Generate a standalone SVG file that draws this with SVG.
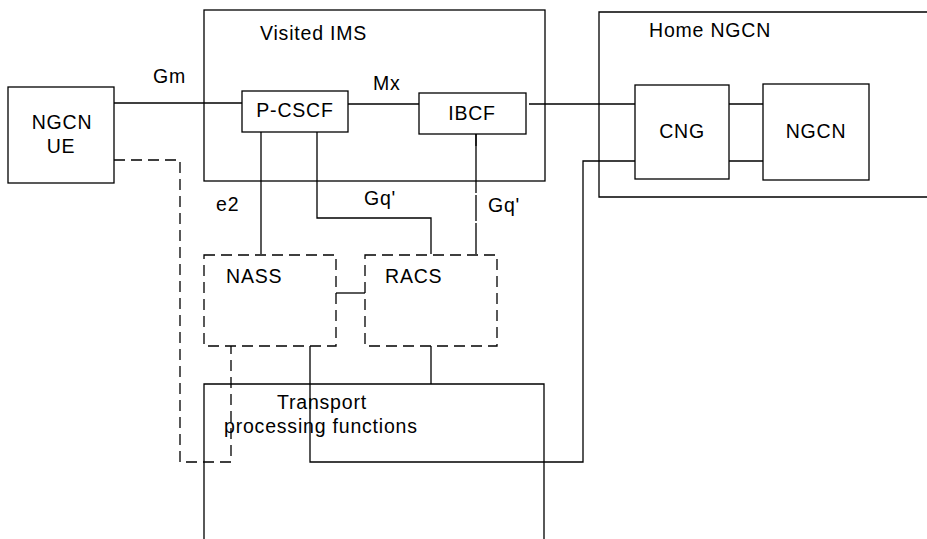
<svg xmlns="http://www.w3.org/2000/svg" width="927" height="539" viewBox="0 0 927 539">
<style>
.b{fill:none;stroke:#000;stroke-width:1.3}
.d{fill:none;stroke:#000;stroke-width:1.3;stroke-dasharray:11 6}
.c{fill:none;stroke:#000;stroke-width:1.3}
text{font-family:"Liberation Sans",Arial,sans-serif;font-size:19.5px;letter-spacing:0.8px;fill:#000}
.m{text-anchor:middle}
</style>
<rect width="927" height="539" fill="#fff"/>
<g id="visited-ims">
<rect class="b" x="204" y="10" width="341" height="171"/>
<text x="260" y="40">Visited IMS</text>
</g>
<g id="home-ngcn">
<path class="b" d="M928,12 H599 V197 H928"/>
<text x="649" y="37">Home NGCN</text>
</g>
<g id="transport">
<path class="b" d="M204,540 V384 H544 V540"/>
<text x="277" y="409">Transport</text>
<text x="224" y="433">processing functions</text>
</g>
<g id="connectors">
<path class="c" d="M114,103 H242"/>
<path class="c" d="M348,104 H419"/>
<path class="c" d="M529,104 H635"/>
<path class="c" d="M729,104 H763"/>
<path class="c" d="M729,161 H763"/>
<path class="c" d="M261,132 V254"/>
<path class="c" d="M317,132 V218 H431 V254"/>
<path class="c" d="M476,134 V193 M476,195 V221 M476,223 V254"/>
<path class="c" d="M476,134 V146" stroke-width="2"/>
<path class="c" d="M336,293 H365"/>
<path class="c" d="M431,346 V384"/>
<path class="c" d="M310,346 V462 H583 V161 H635"/>
<path class="d" d="M114,160 H180 V462 H231 V346"/>
</g>
<g id="ngcn-ue">
<rect class="b" x="8" y="87" width="106" height="96"/>
<text class="m" x="62" y="129">NGCN</text>
<text class="m" x="61" y="153">UE</text>
</g>
<g id="p-cscf">
<rect class="b" x="242" y="91" width="106" height="41"/>
<text class="m" x="295" y="117">P-CSCF</text>
</g>
<g id="ibcf">
<rect class="b" x="419" y="93" width="107" height="41"/>
<text class="m" x="472" y="120">IBCF</text>
</g>
<g id="cng">
<rect class="b" x="635" y="85" width="94" height="94"/>
<text class="m" x="682" y="138">CNG</text>
</g>
<g id="ngcn">
<rect class="b" x="763" y="84" width="106" height="96"/>
<text class="m" x="816" y="138">NGCN</text>
</g>
<g id="nass">
<rect class="d" x="204" y="255" width="132" height="91"/>
<text x="226" y="283">NASS</text>
</g>
<g id="racs">
<rect class="d" x="365" y="255" width="132" height="91"/>
<text x="385" y="283">RACS</text>
</g>
<g id="labels">
<text x="153" y="83">Gm</text>
<text x="373" y="90">Mx</text>
<text x="216" y="211">e2</text>
<text x="364" y="205">Gq'</text>
<text x="488" y="212">Gq'</text>
</g>
</svg>
